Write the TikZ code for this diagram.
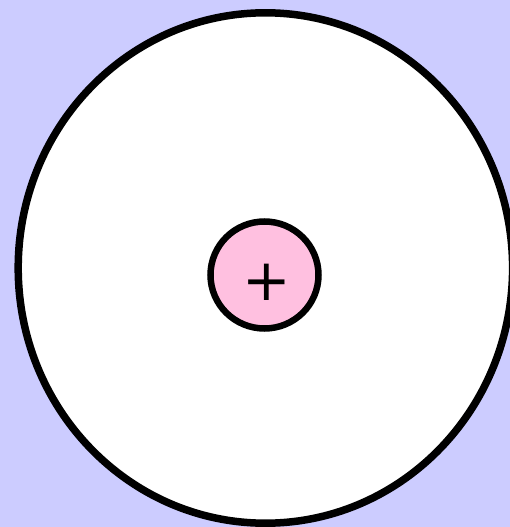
\documentclass[tikz,border=0pt]{standalone}
\usepackage{fontspec}
\newfontfamily\plusfont{DejaVu Sans}
\definecolor{bgblue}{HTML}{CCCCFF}
\definecolor{nucpink}{HTML}{FFC0E0}
\tikzset{
  ring/.style={draw=black, line width=7.5pt, fill=white},
  nucleus/.style={draw=black, line width=6.5pt, fill=nucpink},
}
\begin{document}
\begin{tikzpicture}[x=1pt,y=-1pt]
  \fill[bgblue] (0,0) rectangle (510,527);
  \useasboundingbox (0,0) rectangle (510,527);
  \begin{scope}
    \clip (0,0) rectangle (510,527);
    \path[ring] (265.4,268) ellipse [x radius=247.2, y radius=255.2];
  \end{scope}
  \path[nucleus] (264.5,275) ellipse [x radius=54, y radius=53.5];
  \node[anchor=base, inner sep=0pt, font=\plusfont\fontsize{58}{58}\selectfont] (plus) at (266.5,300.8) {+};
\end{tikzpicture}
\end{document}
